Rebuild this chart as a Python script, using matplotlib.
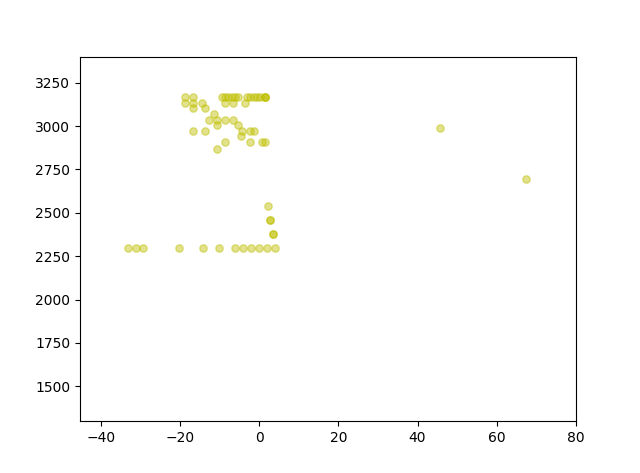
import matplotlib
matplotlib.use('Agg')
import matplotlib.pyplot as plt

# points (x, y)
x_vals = [-18.7, -16.6, -9.4, -8.6, -7.8, -6.9, -6.1, -5.2, -3.1, -2.3, -1.4, -0.6, 0.25, 1.5, 1.5, 1.5,
          -18.7, -16.6, -14.5, -8.6, -6.5, -3.5,
          -16.6, -13.6,
          -11.5,
          -12.6, -10.5, -8.6, -6.5,
          -10.5, -5.4,
          -16.6, -13.6, -4.4, -2.4, -1.4,
          -4.5,
          -8.6, -2.4, 0.7, 1.5,
          -10.5,
          -33.0, -31.1, -29.2, -20.1, -14.1, -10.1, -6.1, -4.0, -2.1, 0.0, 1.9, 3.9,
          2.35, 2.8, 2.8, 3.4, 3.4,
          45.6, 67.5]
y_vals = [3170, 3170, 3170, 3170, 3170, 3170, 3170, 3170, 3170, 3170, 3170, 3170, 3170, 3170, 3170, 3170,
          3134, 3134, 3134, 3134, 3134, 3134,
          3106, 3106,
          3071,
          3038, 3038, 3038, 3038,
          3005, 3005,
          2974, 2974, 2974, 2974, 2974,
          2942,
          2907, 2907, 2907, 2907,
          2869,
          2297, 2297, 2297, 2297, 2297, 2297, 2297, 2297, 2297, 2297, 2297, 2297,
          2541, 2456, 2456, 2378, 2378,
          2990, 2695]

fig, ax = plt.subplots(figsize=(6.4, 4.73), dpi=100)
ax.scatter(x_vals, y_vals, color='y', alpha=0.45, s=28)
ax.set_xlim(-45.2, 80)
ax.set_ylim(1300, 3400)

fig.savefig('out.png')
